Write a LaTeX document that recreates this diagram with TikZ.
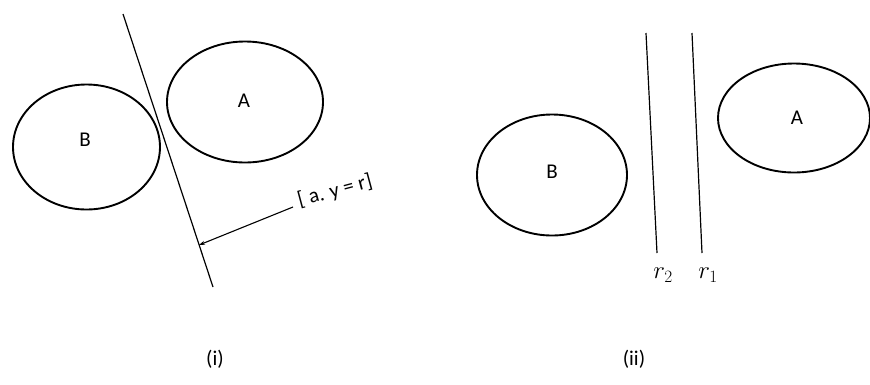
\documentclass[tikz,border=0pt]{standalone}
\usepackage{fontspec}
\setmainfont{Carlito}
\usetikzlibrary{shapes.geometric,arrows.meta}
\tikzset{
  blob/.style={draw, ellipse, line width=1.9pt, inner sep=0pt},
  sep/.style={line width=1.2pt},
  lbl/.style={font=\fontsize{21}{24}\selectfont},
  mlbl/.style={font=\fontsize{25}{27}\selectfont}
}
\begin{document}
\begin{tikzpicture}[x=1pt,y=-1pt]
\useasboundingbox (0,0) rectangle (870,384);
% (i)
\node[blob, minimum width=147pt, minimum height=125pt] (B1) at (86.5,147) {};
\node[lbl] (B1t) at (85,140) {B};
\node[blob, minimum width=156pt, minimum height=121pt] (A1) at (245,102) {};
\node[lbl] (A1t) at (244,101) {A};
\coordinate (l1a) at (123,14);
\coordinate (l1b) at (213,287);
\draw[sep] (l1a) -- (l1b);
\coordinate (t) at (199,245);
\node[lbl, anchor=west, rotate=15, inner sep=0pt] (eq) at (298,201) {[ a. y = r]};
\draw[line width=1.1pt, -{Stealth[length=6pt,width=4pt]}] (293,207) -- (t);
\node[lbl] (c1) at (215,359) {(i)};
% (ii)
\node[blob, minimum width=150pt, minimum height=121pt] (B2) at (552,175) {};
\node[lbl] (B2t) at (552,172) {B};
\node[blob, minimum width=152pt, minimum height=109pt] (A2) at (794,118) {};
\node[lbl] (A2t) at (797,118) {A};
\coordinate (r2a) at (646,33);
\coordinate (r2b) at (657,253);
\coordinate (r1a) at (692,33);
\coordinate (r1b) at (702,253);
\draw[sep] (r2a) -- (r2b);
\draw[sep] (r1a) -- (r1b);
\node[mlbl] (r2) at (663,275) {$r_2$};
\node[mlbl] (r1) at (708,275) {$r_1$};
\node[lbl] (c2) at (634,359) {(ii)};
\end{tikzpicture}
\end{document}
